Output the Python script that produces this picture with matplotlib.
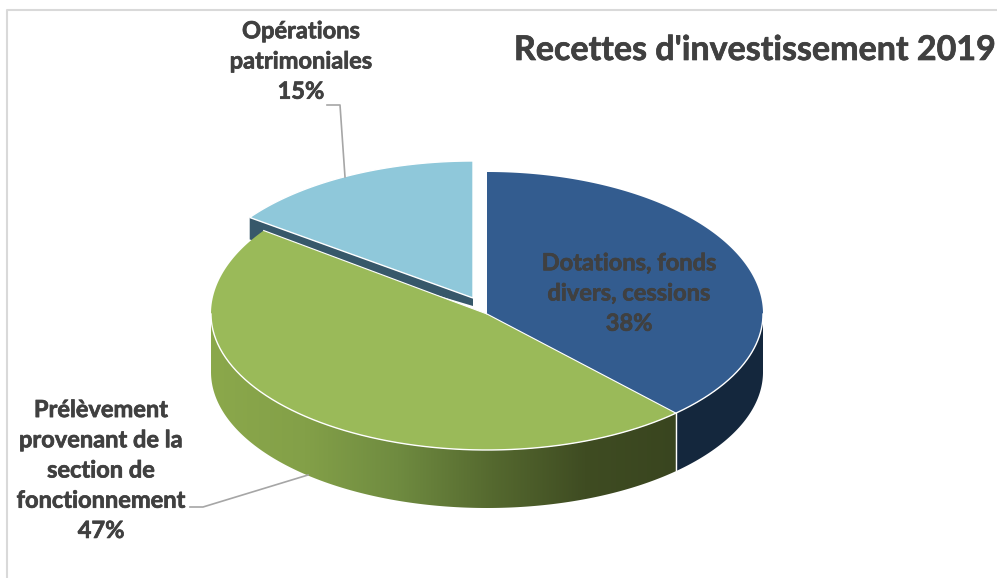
"""3D-looking exploded pie: Recettes d'investissement 2019."""

import matplotlib.patheffects as pe
import matplotlib.pyplot as plt
import numpy as np
from matplotlib.colors import LinearSegmentedColormap
from matplotlib.patches import Polygon

labels = ["Dotations, fonds\ndivers, cessions\n38%",
          "Prélèvement\nprovenant de la\nsection de\nfonctionnement\n47%",
          "Opérations\npatrimoniales\n15%"]
values = [38, 47, 15]
title = "Recettes d'investissement 2019"

plt.rcParams["font.family"] = ["Lato", "DejaVu Sans"]
TEXT = "#404040"
GREY = "#a6a6a6"

# pie geometry, in pixels of the reference
CX, CY = 487, 314
A, B_BACK, B_FRONT = 276, 142, 136
DEPTH = 58

fig = plt.figure(figsize=(9.97, 5.78), dpi=100)
ax = fig.add_axes([0, 0, 1, 1])

# slices run clockwise from the top
ends = 90 - np.cumsum(values) * 3.6
starts = np.r_[90, ends[:-1]]


def arc(t0, t1, dx=0, dy=0, back=B_BACK, front=B_FRONT):
    t = np.radians(np.linspace(t0, t1, 200))
    # positive sin is the back half of the pie (up on screen)
    b = np.where(np.sin(t) > 0, back, front)
    return np.c_[CX + dx + A * np.cos(t), CY + dy - b * np.sin(t)]


def side(t0, t1):
    edge = arc(t0, t1)
    return np.r_[edge, (edge + [0, DEPTH])[::-1]]


# exploded slice first, it lies behind the others
dx, dy = -14, -16
apex = np.array([CX + dx, CY + dy])
top = np.r_[[apex], arc(starts[2], ends[2], dx, dy, back=137)]
corner = top[1]
cut = np.array([apex, corner, corner + [0, 22], apex + [0, 8]])
ax.add_patch(Polygon(cut, fc="#37586a", ec="none", zorder=1))
ax.add_patch(Polygon(top, fc="#8fc8da", ec="white", lw=1, zorder=2))

# green side with its left to right shading
cmap = LinearSegmentedColormap.from_list(
    "green_side", ["#8ba84b", "#83a048", "#6f8b40", "#55692f", "#3f4c22", "#39451f"])
green_side = Polygon(side(starts[1], -180), fc="none", ec="none", zorder=3)
ax.add_patch(green_side)
im = ax.imshow(np.linspace(0, 1, 256)[None, :], cmap=cmap, aspect="auto",
               extent=[CX - A, 678, 520, 300], zorder=3)
im.set_clip_path(green_side)

green_rim = arc(starts[1], ends[1])
ax.add_patch(Polygon(np.r_[[[CX, CY]], green_rim], fc="#9aba59", ec="none", zorder=4))
ax.plot(*arc(starts[1], -180).T, color="white", lw=1, zorder=5)
ax.plot([CX, green_rim[-1, 0]], [CY, green_rim[-1, 1]], color="white", lw=0.8, zorder=5)

# blue slice, only the part of its side right of the corner shows
ax.add_patch(Polygon(side(starts[1], 0), fc="#14273d", ec="none", zorder=6))
ax.add_patch(Polygon(np.r_[[[CX, CY]], arc(starts[0], ends[0])],
                     fc="#335c8f", ec="none", zorder=7))
blue_rim = arc(starts[1], 0)
ax.plot(*blue_rim.T, color="white", lw=1, zorder=8)
ax.plot([CX, blue_rim[0, 0]], [CY, blue_rim[0, 1]], color="white", lw=0.8, zorder=8)
ax.plot([blue_rim[0, 0]] * 2, [blue_rim[0, 1], blue_rim[0, 1] + DEPTH],
        color="white", lw=1, zorder=8)

# frame of the original screenshot
ax.plot([7, 7, 997], [578, 10, 10], color="#d9d9d9", lw=1.5, zorder=0)

# leader lines
ax.plot([327, 340, 345], [105, 105, 177], color=GREY, lw=1.2, zorder=9)
ax.plot([190, 203, 308], [507, 507, 475], color=GREY, lw=1.2, zorder=9)

# Lato bold is a bit light next to the original, thicken it slightly
heavy = [pe.withStroke(linewidth=0.5, foreground=TEXT)]
font = dict(ha="center", va="center", fontsize=17, fontweight="bold", color=TEXT,
            linespacing=1.38, zorder=10, path_effects=heavy)
ax.text(629, 293, labels[0], **font)
ax.text(101, 470, labels[1], **font)
ax.text(301, 61, labels[2], **font)
ax.text(755, 50, title, ha="center", va="center", fontsize=24.5, fontweight="bold",
        color=TEXT, zorder=10, path_effects=heavy)

ax.set_xlim(0, 997)
ax.set_ylim(578, 0)
ax.axis("off")

fig.savefig("out.png", dpi=100)
